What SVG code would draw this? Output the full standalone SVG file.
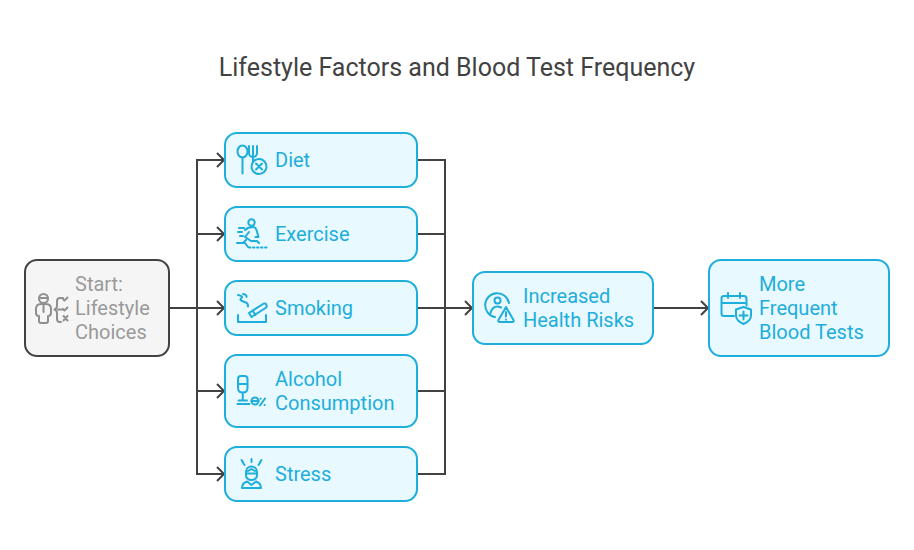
<svg xmlns="http://www.w3.org/2000/svg" width="914" height="550" viewBox="0 0 914 550">
<style>
.bg{fill:#fff}
.n{fill:#e8f9ff;stroke:#1eaedb;stroke-width:2}
.s{fill:#f5f5f5;stroke:#424242;stroke-width:2}
.t{font-family:Roboto,"Liberation Sans",sans-serif;font-size:20px;fill:#1eaedb}
.g{fill:#9a9a9a}
.title{font-family:Roboto,"Liberation Sans",sans-serif;font-size:25px;fill:#424242}
.c{fill:none;stroke:#424242;stroke-width:2}
.i{fill:none;stroke:#1eaedb;stroke-width:2;stroke-linecap:round;stroke-linejoin:round}
.ig{fill:none;stroke:#8f8f8f;stroke-width:2;stroke-linecap:round;stroke-linejoin:round}
</style>
<rect class="bg" width="914" height="550"/>
<text class="title" x="457" y="76" text-anchor="middle">Lifestyle Factors and Blood Test Frequency</text>
<g id="connectors">
<path class="c" d="M169 308H224M197 308V160H224M197 234H224M197 391H224M197 308V474H224"/>
<path class="c" d="M417 160H445V474H417M417 234H445M417 308H472M417 391H445M653 308H708"/>
<path class="c" d="M217 153l7 7l-7 7M217 227l7 7l-7 7M217 301l7 7l-7 7M217 384l7 7l-7 7M217 467l7 7l-7 7"/>
<path class="c" d="M465 301l7 7l-7 7M701 301l7 7l-7 7"/>
</g>
<g id="start">
<rect class="s" x="25" y="260" width="144" height="96" rx="12"/>
<g class="ig">
<circle cx="43.500" cy="298.500" r="4.500"/><path d="M39.500 298h8"/>
<path d="M41 304h5c3 0 5 2 5 5v4c0 2-1 3-3 3v5c0 1-.5 2-2 2h-5c-1.500 0-2-1-2-2v-5c-2 0-3-1-3-3v-4c0-3 2-5 5-5zM43.500 304v8"/>
<path d="M63 298h-3c-2 0-3 1-3 3v5c0 2-1 3-2.500 3.500c1.500 .5 2.500 2 2.500 3.500v6c0 2 1 3 3 3h1M58 309.500h5M63 299l1.500 1.500l3-3M63 309l1.500 1.500l3-3M63.500 316l4 4.500M67.500 316l-4 4.500"/>
</g>
<text class="t g" x="75" y="291">Start:</text><text class="t g" x="75" y="315">Lifestyle</text><text class="t g" x="75" y="339">Choices</text>
</g>
<g id="diet">
<rect class="n" x="225" y="133" width="192" height="54" rx="12"/>
<g class="i">
<ellipse cx="242.500" cy="151.500" rx="5" ry="6"/><path d="M242.500 157.500v16M249 146v7c0 2.500 2 4 4 4s4-1.500 4-4v-7M253 146v16"/>
<circle cx="259" cy="166.500" r="7.500"/><path d="M256 163.500l6 6M262 163.500l-6 6"/>
</g>
<text class="t" x="275" y="167">Diet</text>
</g>
<g id="exercise">
<rect class="n" x="225" y="207" width="192" height="54" rx="12"/>
<g class="i">
<circle cx="251.500" cy="222.500" r="3.200"/>
<path d="M239 228h5M238 232h4M240 236h3M245 230c2-2 5-3 8-3c2 0 3 1 3.500 3l2 7h-3M249 232l-4 5l6 4h6l2 2M246 240l-3 3M237 243h8l3 4"/>
<path d="M249 247.500h18" stroke-dasharray="1.500 2.500"/>
</g>
<text class="t" x="275" y="241">Exercise</text>
</g>
<g id="smoking">
<rect class="n" x="225" y="281" width="192" height="54" rx="12"/>
<g class="i">
<path d="M238 315v7h28v-7M249 313l14-9c1.500-1 3-.5 3.500 1c.5 1.500 0 2.500-1 3l-14 9zM252.500 310.500l3 4.500"/>
<path d="M238 295c4 .5 5 2 3 3.500c-2 2 2 3 5 4c1.500 .5 2 2 2 4M243 294c3 .5 4 1.500 3.500 3"/>
</g>
<text class="t" x="275" y="315">Smoking</text>
</g>
<g id="alcohol">
<rect class="n" x="225" y="355" width="192" height="72" rx="12"/>
<g class="i">
<path d="M238 388v-9c0-2 1-3 3-3h3.500c2 0 3 1 3 3v9c0 3-2 4.500-4.750 4.500s-4.750-1.500-4.750-4.500zM238 384h9.500M242.750 392.500v8M238.500 400.500h8.500M237.500 404h12"/>
<circle cx="255" cy="401" r="3.500"/><path d="M251.500 401h7M265 398.500l-5 7M260.500 398.800h.2M264.500 405h.2"/>
</g>
<text class="t" x="275" y="386">Alcohol</text><text class="t" x="275" y="410">Consumption</text>
</g>
<g id="stress">
<rect class="n" x="225" y="447" width="192" height="54" rx="12"/>
<g class="i">
<path d="M241.500 460l1.500 2h-.5l2 3M251.500 459v3M261.500 460l-1.500 2h.5l-2 3"/>
<path d="M246 472c0-3.500 2.500-5.500 5.500-5.500s5.500 2 5.500 5.500v3.500c0 2.500-2.500 4.500-5.500 4.500s-5.500-2-5.500-4.500zM246 473.500h11M248 471l3.500-2l3.500 2"/>
<path d="M242 488c0-3.500 2-5.500 5-6.500l4.500 3.500l4.500-3.500c3 1 5 3 5 6.500z"/>
</g>
<text class="t" x="275" y="481">Stress</text>
</g>
<g id="risks">
<rect class="n" x="473" y="272" width="180" height="72" rx="12"/>
<g class="i">
<path d="M509 303A12 12 0 1 0 495 317"/>
<circle cx="497.500" cy="300.500" r="3"/><path d="M490.500 313c1-4 4-6.500 7-6.500c1.500 0 2.500 .5 3.500 1"/>
<path d="M506 307l-7.500 13c-.5 1 0 2 1 2h13c1 0 1.500-1 1-2zM506 312v4.500M506 319.500v.2"/>
</g>
<text class="t" x="523" y="303">Increased</text><text class="t" x="523" y="327">Health Risks</text>
</g>
<g id="tests">
<rect class="n" x="709" y="260" width="180" height="96" rx="12"/>
<g class="i">
<path d="M734 316h-10c-1.500 0-2.500-1-2.500-2.500v-15c0-1.500 1-2.500 2.500-2.500h20c1.500 0 2.500 1 2.500 2.500v7M721.500 303h25M728 293v5M740 293v5"/>
<path d="M743.500 307l7.500 2.500v6c0 3.500-3 6.500-7.500 8.500c-4.500-2-7.500-5-7.500-8.500v-6zM743.500 311.500v8M739.500 315.500h8"/>
</g>
<text class="t" x="759" y="291">More</text><text class="t" x="759" y="315">Frequent</text><text class="t" x="759" y="339">Blood Tests</text>
</g>
</svg>
